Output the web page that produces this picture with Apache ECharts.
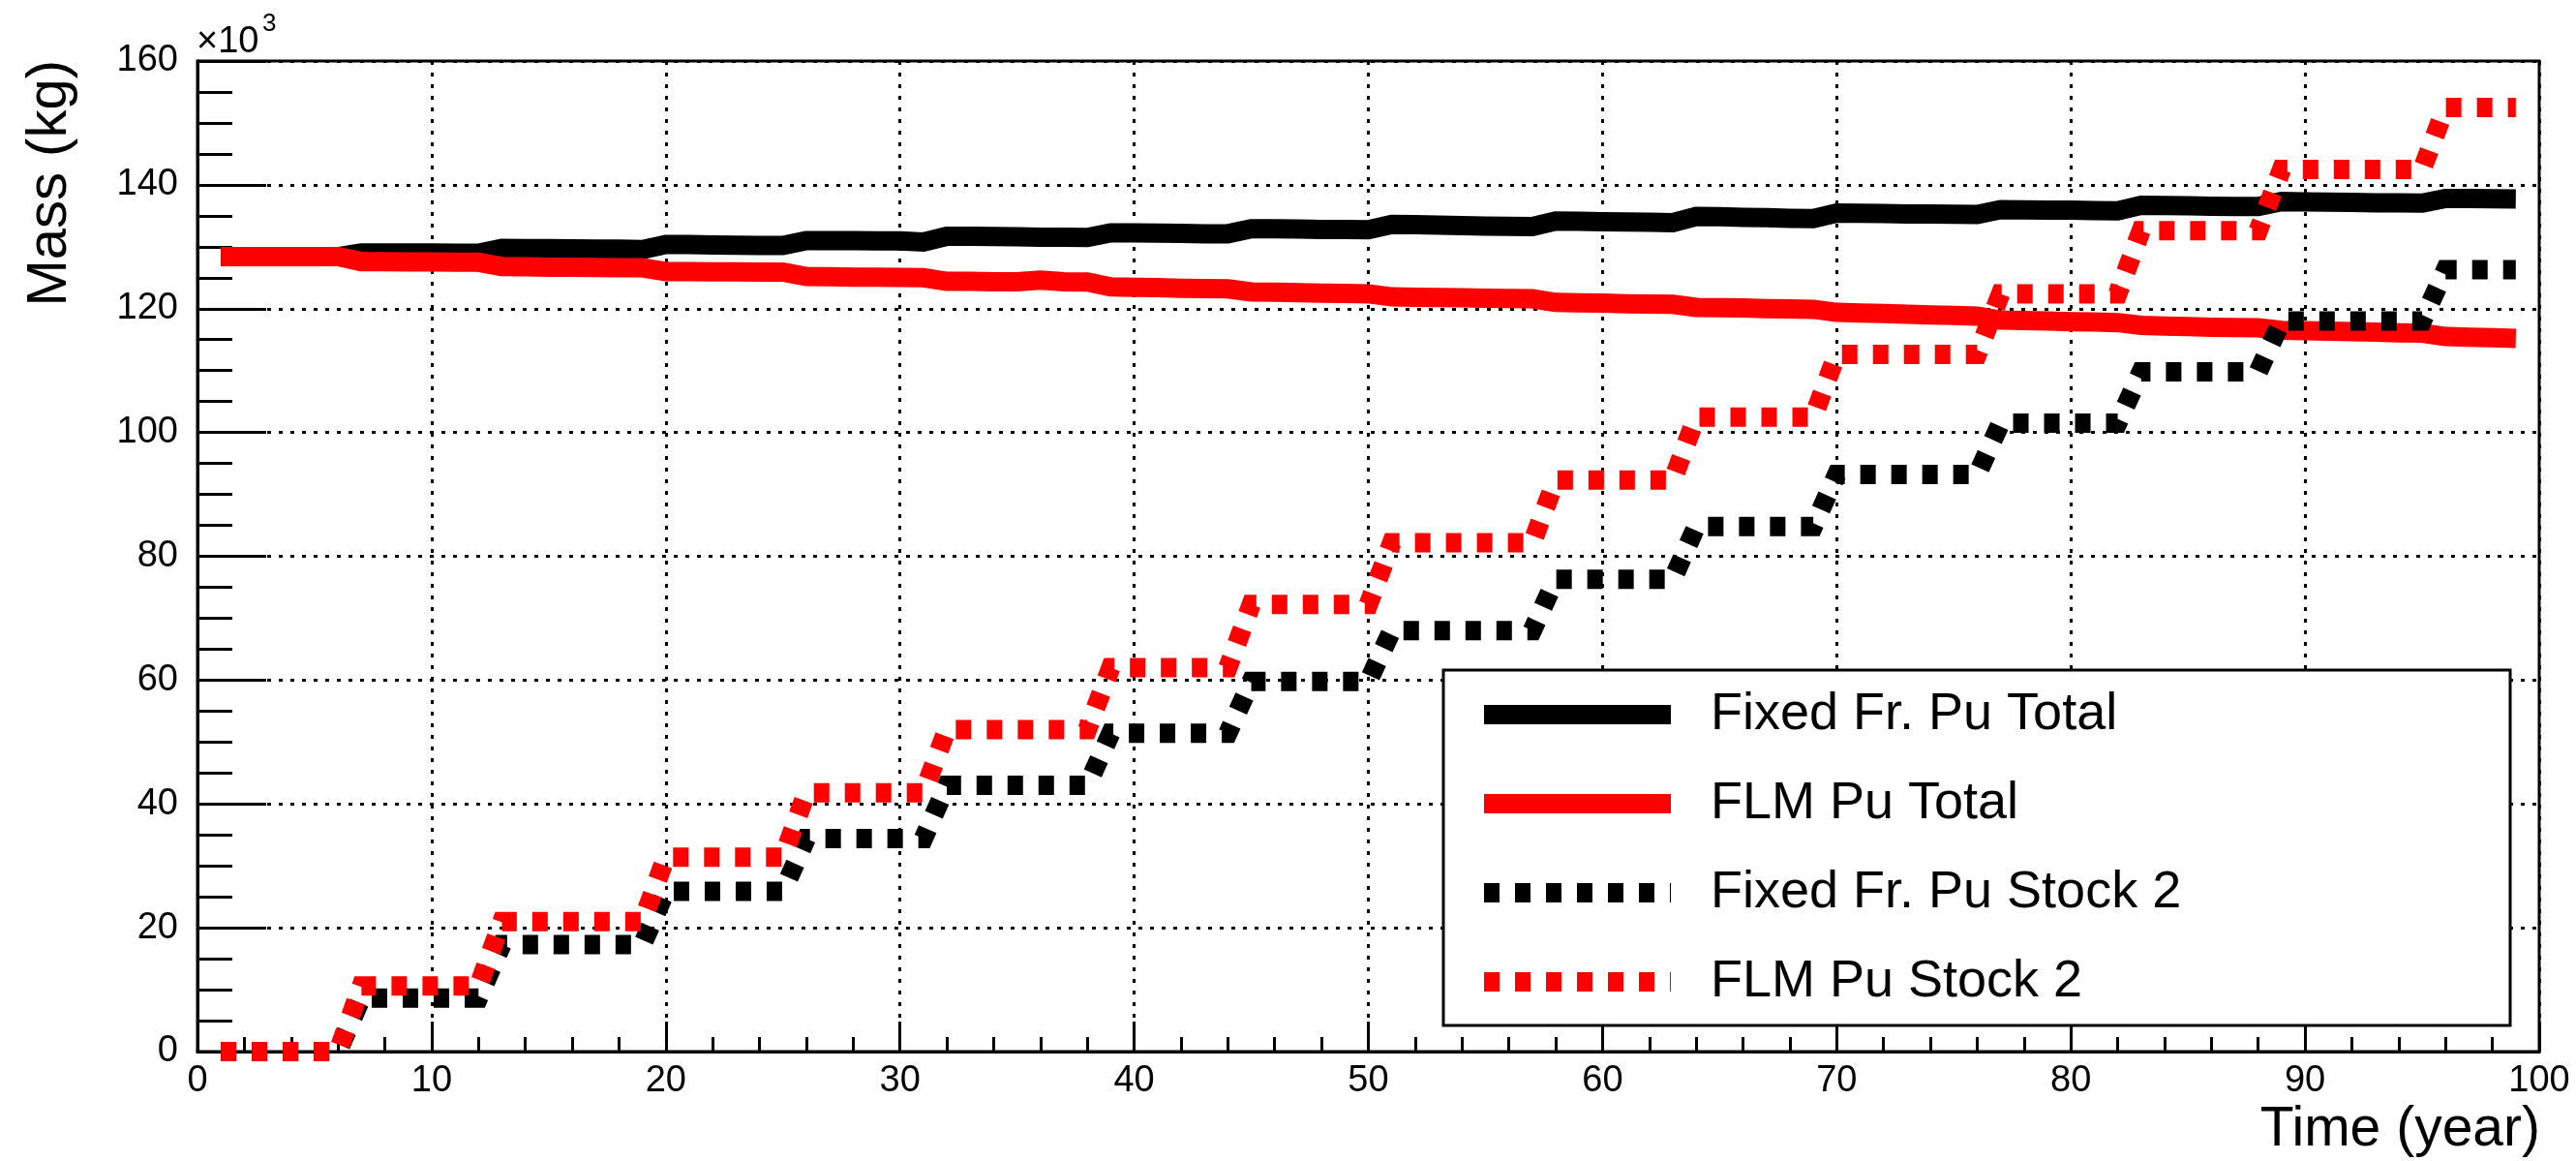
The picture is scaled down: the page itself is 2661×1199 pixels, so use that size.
<!DOCTYPE html>
<html>
<head>
<meta charset="utf-8">
<script src="https://cdn.jsdelivr.net/npm/echarts@6/dist/echarts.min.js"></script>
<style>
  html, body { margin: 0; padding: 0; background: #ffffff; }
  #chart { width: 2661px; height: 1199px; }
</style>
</head>
<body>
<div id="chart"></div>
<script>
// Time axis (years) shared by every curve
const years = [
  1, 2, 3, 4, 5, 6, 7, 8, 9, 10, 11, 12, 13, 14, 15, 16, 17, 18, 19, 20,
  21, 22, 23, 24, 25, 26, 27, 28, 29, 30, 31, 32, 33, 34, 35, 36, 37, 38, 39, 40,
  41, 42, 43, 44, 45, 46, 47, 48, 49, 50, 51, 52, 53, 54, 55, 56, 57, 58, 59, 60,
  61, 62, 63, 64, 65, 66, 67, 68, 69, 70, 71, 72, 73, 74, 75, 76, 77, 78, 79, 80,
  81, 82, 83, 84, 85, 86, 87, 88, 89, 90, 91, 92, 93, 94, 95, 96, 97, 98, 99
];

// Pu mass in units of 10^3 kg
const fixedTotal = [
  128.4, 128.4, 128.4, 128.4, 128.4, 128.4,
  129.0, 129.0, 129.0, 129.0, 128.95, 128.95,
  129.75, 129.7, 129.7, 129.65, 129.6, 129.6, 129.55,
  130.35, 130.35, 130.3, 130.25, 130.2, 130.2,
  131.0, 131.0, 131.0, 130.95, 130.95, 130.75,
  131.7, 131.7, 131.65, 131.6, 131.55, 131.55, 131.5,
  132.25, 132.25, 132.2, 132.15, 132.1, 132.1,
  132.9, 132.9, 132.85, 132.8, 132.8, 132.75,
  133.6, 133.55, 133.5, 133.4, 133.35, 133.3, 133.25,
  134.15, 134.1, 134.05, 134.0, 133.95, 133.9,
  134.9, 134.85, 134.75, 134.7, 134.6, 134.55,
  135.45, 135.4, 135.35, 135.3, 135.3, 135.25, 135.2,
  136.0, 135.95, 135.9, 135.9, 135.85, 135.8,
  136.7, 136.65, 136.6, 136.55, 136.5, 136.5,
  137.3, 137.25, 137.2, 137.15, 137.1, 137.1, 137.05,
  137.8, 137.8, 137.75, 137.7
];

const flmTotal = [
  128.4, 128.4, 128.4, 128.4, 128.4, 128.4,
  127.6, 127.6, 127.55, 127.55, 127.5, 127.5,
  126.8, 126.75, 126.7, 126.7, 126.65, 126.6, 126.6,
  126.0, 126.0, 125.95, 125.95, 125.9, 125.9,
  125.2, 125.15, 125.1, 125.1, 125.05, 125.0,
  124.4, 124.4, 124.35, 124.35, 124.6, 124.35, 124.3,
  123.5, 123.45, 123.4, 123.3, 123.25, 123.2,
  122.7, 122.65, 122.6, 122.5, 122.45, 122.4,
  121.9, 121.85, 121.8, 121.75, 121.7, 121.65, 121.6,
  121.0, 120.95, 120.9, 120.8, 120.75, 120.7,
  120.2, 120.15, 120.1, 120.0, 119.95, 119.9,
  119.4, 119.3, 119.2, 119.1, 119.0, 118.9, 118.8,
  118.15, 118.1, 118.0, 117.9, 117.85, 117.75,
  117.3, 117.2, 117.1, 117.0, 116.95, 116.9,
  116.5, 116.45, 116.35, 116.3, 116.2, 116.1, 116.05,
  115.5, 115.4, 115.3, 115.2
];

const fixedStock = [
  0, 0, 0, 0, 0, 0,
  8.65, 8.65, 8.65, 8.65, 8.65, 8.65,
  17.3, 17.3, 17.3, 17.3, 17.3, 17.3, 17.3,
  25.9, 25.9, 25.9, 25.9, 25.9, 25.9,
  34.4, 34.4, 34.4, 34.4, 34.4, 34.4,
  43.0, 43.0, 43.0, 43.0, 43.0, 43.0, 43.0,
  51.4, 51.4, 51.4, 51.4, 51.4, 51.4,
  59.8, 59.8, 59.8, 59.8, 59.8, 59.8,
  68.0, 68.0, 68.0, 68.0, 68.0, 68.0, 68.0,
  76.3, 76.3, 76.3, 76.3, 76.3, 76.3,
  84.8, 84.8, 84.8, 84.8, 84.8, 84.8,
  93.2, 93.2, 93.2, 93.2, 93.2, 93.2, 93.2,
  101.5, 101.5, 101.5, 101.5, 101.5, 101.5,
  109.8, 109.8, 109.8, 109.8, 109.8, 109.8,
  118.0, 118.0, 118.0, 118.0, 118.0, 118.0, 118.0,
  126.3, 126.3, 126.3, 126.3
];

const flmStock = [
  0, 0, 0, 0, 0, 0,
  10.6, 10.6, 10.6, 10.6, 10.6, 10.6,
  21.0, 21.0, 21.0, 21.0, 21.0, 21.0, 21.0,
  31.4, 31.4, 31.4, 31.4, 31.4, 31.4,
  41.8, 41.8, 41.8, 41.8, 41.8, 41.8,
  52.0, 52.0, 52.0, 52.0, 52.0, 52.0, 52.0,
  62.0, 62.0, 62.0, 62.0, 62.0, 62.0,
  72.2, 72.2, 72.2, 72.2, 72.2, 72.2,
  82.2, 82.2, 82.2, 82.2, 82.2, 82.2, 82.2,
  92.3, 92.3, 92.3, 92.3, 92.3, 92.3,
  102.5, 102.5, 102.5, 102.5, 102.5, 102.5,
  112.6, 112.6, 112.6, 112.6, 112.6, 112.6, 112.6,
  122.4, 122.4, 122.4, 122.4, 122.4, 122.4,
  132.6, 132.6, 132.6, 132.6, 132.6, 132.6,
  142.5, 142.5, 142.5, 142.5, 142.5, 142.5, 142.5,
  152.5, 152.5, 152.5, 152.5
];

const seriesNames = ['Fixed Fr. Pu Total', 'FLM Pu Total', 'Fixed Fr. Pu Stock 2', 'FLM Pu Stock 2'];
const xTitle = 'Time (year)';
const yTitle = 'Mass (kg)';

const FONT = "'Liberation Sans', Arial, Helvetica, sans-serif";
const DASH = [16, 16];
const DOT = [4, 8];

function pairs(values) {
  return years.map((t, i) => [t, values[i]]);
}

function lineSeries(name, values, color, type) {
  return {
    name: name,
    type: 'line',
    data: pairs(values),
    symbol: 'none',
    showSymbol: false,
    silent: true,
    color: color,
    lineStyle: { color: color, width: 20, type: type, cap: 'butt', join: 'miter' },
    itemStyle: { color: color },
    emphasis: { disabled: true }
  };
}

const chart = echarts.init(document.getElementById('chart'), null, { renderer: 'canvas' });

const axisCommon = {
  type: 'value',
  axisLine: { show: true, onZero: false, lineStyle: { color: '#000', width: 3 } },
  axisTick: { show: true, inside: true, lineStyle: { color: '#000', width: 3 } },
  minorTick: { show: true, lineStyle: { color: '#000', width: 3 } },
  splitLine: { show: true, lineStyle: { color: '#000', width: 3, type: DOT } },
  minorSplitLine: { show: false }
};

chart.setOption({
  animation: false,
  backgroundColor: '#ffffff',
  grid: {
    left: 204, top: 63, right: 38, bottom: 113,
    show: true, borderColor: '#000', borderWidth: 3, backgroundColor: 'transparent'
  },
  xAxis: Object.assign({}, axisCommon, {
    min: 0, max: 100, interval: 10,
    axisTick: Object.assign({}, axisCommon.axisTick, { length: 31 }),
    minorTick: Object.assign({}, axisCommon.minorTick, { splitNumber: 5, length: 15 }),
    axisLabel: { fontFamily: FONT, fontSize: 38, color: '#000', margin: 12 }
  }),
  yAxis: Object.assign({}, axisCommon, {
    min: 0, max: 160, interval: 20,
    axisTick: Object.assign({}, axisCommon.axisTick, { length: 71 }),
    minorTick: Object.assign({}, axisCommon.minorTick, { splitNumber: 4, length: 36 }),
    axisLabel: { fontFamily: FONT, fontSize: 38, color: '#000', margin: 20 }
  }),
  legend: {
    orient: 'vertical',
    left: 1491,
    top: 692,
    padding: [16, 0, 15, 32],
    itemGap: 32,
    itemWidth: 193,
    itemHeight: 20,
    selectedMode: false,
    backgroundColor: '#ffffff',
    borderColor: '#000',
    borderWidth: 3,
    borderRadius: 0,
    itemStyle: { opacity: 0 },
    lineStyle: { width: 20, cap: 'butt' },
    textStyle: {
      fontFamily: FONT, fontSize: 54, color: '#000',
      lineHeight: 60, width: 826, padding: [0, 0, 0, 36]
    },
    data: seriesNames
  },
  graphic: [
    { type: 'text', x: 203, y: 44, silent: true,
      style: { text: '×10', fontFamily: FONT, fontSize: 38, fill: '#000', align: 'left', verticalAlign: 'middle' } },
    { type: 'text', x: 271, y: 25, silent: true,
      style: { text: '3', fontFamily: FONT, fontSize: 26, fill: '#000', align: 'left', verticalAlign: 'middle' } },
    { type: 'text', x: 52, y: 62, rotation: Math.PI / 2, silent: true,
      style: { text: yTitle, fontFamily: FONT, fontSize: 58, fill: '#000', align: 'right', verticalAlign: 'middle' } },
    { type: 'text', x: 2624, y: 1167, silent: true,
      style: { text: xTitle, fontFamily: FONT, fontSize: 57, fill: '#000', align: 'right', verticalAlign: 'middle' } }
  ],
  series: [
    lineSeries(seriesNames[0], fixedTotal, '#000000', 'solid'),
    lineSeries(seriesNames[1], flmTotal, '#ff0000', 'solid'),
    lineSeries(seriesNames[2], fixedStock, '#000000', DASH),
    lineSeries(seriesNames[3], flmStock, '#ff0000', DASH)
  ]
});
</script>
</body>
</html>
